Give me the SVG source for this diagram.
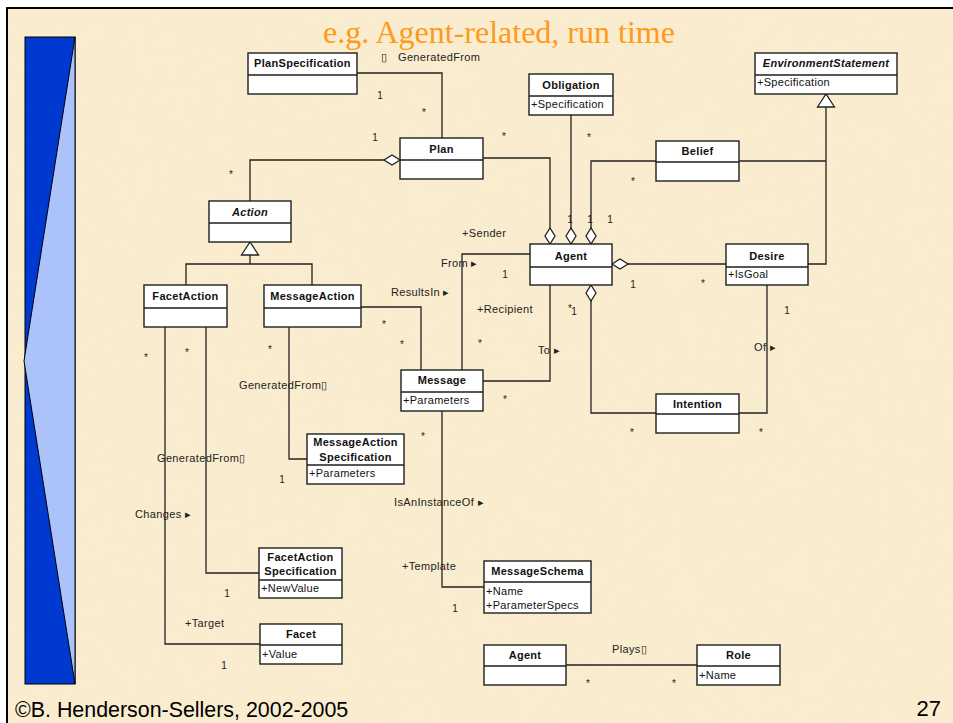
<svg xmlns="http://www.w3.org/2000/svg" width="953" height="723" viewBox="0 0 953 723">
  <style>
    .box { fill: #ffffff; stroke: #1e1e1e; stroke-width: 1.4; }
    .div { stroke: #1e1e1e; stroke-width: 1.4; }
    .name { font-family: "Liberation Sans", Arial, sans-serif; font-size: 11px; font-weight: bold; letter-spacing: 0.3px; text-anchor: middle; fill: #111; }
    .abs { font-style: italic; }
    .attr { font-family: "Liberation Sans", Arial, sans-serif; font-size: 11px; letter-spacing: 0.3px; fill: #111; }
    .lbl { font-family: "Liberation Sans", Arial, sans-serif; font-size: 11px; letter-spacing: 0.35px; fill: #222; }
    .mult { font-family: "Liberation Sans", Arial, sans-serif; font-size: 10px; text-anchor: middle; fill: #222; }
    .conn { fill: none; stroke: #222; stroke-width: 1.3; }
    .agg { marker-start: url(#diamond); }
    .gen { marker-end: url(#hollowTri); }
  </style>
  <defs>
    <marker id="diamond" markerUnits="userSpaceOnUse" markerWidth="18" markerHeight="12" refX="0" refY="6" orient="auto" viewBox="-1 0 18 12" overflow="visible">
      <path d="M0,6 L8,1 L16,6 L8,11 Z" fill="#fff" stroke="#222" stroke-width="1.3"/>
    </marker>
    <marker id="hollowTri" markerUnits="userSpaceOnUse" markerWidth="15" markerHeight="19" refX="13" refY="9" orient="auto" viewBox="0 0 15 19" overflow="visible">
      <path d="M0,0.5 L13,9 L0,17.5 Z" fill="#fff" stroke="#222" stroke-width="1.3"/>
    </marker>
    <filter id="parchment" x="0" y="0" width="100%" height="100%">
      <feTurbulence type="fractalNoise" baseFrequency="0.018" numOctaves="3" seed="7"/>
      <feColorMatrix type="matrix" values="0 0 0 0 0.93  0 0 0 0 0.84  0 0 0 0 0.62  0 0 0 -1.1 0.75"/>
    </filter>
  </defs>

  <!-- slide background and frame -->
  <rect x="0" y="0" width="953" height="723" fill="#ffffff"/>
  <rect x="7" y="8" width="960" height="730" fill="#faedcf"/>
  <rect x="7" y="8" width="960" height="730" filter="url(#parchment)" opacity="0.6"/>
  <rect x="7" y="8" width="960" height="730" fill="none" stroke="#000" stroke-width="2"/>

  <!-- left decorative bar -->
  <g id="side-bar">
    <rect x="25" y="37" width="50" height="647" fill="#0039d0" stroke="#000" stroke-width="1"/>
    <polygon points="75,37 24,361 75,684" fill="#abc3fa" stroke="#000" stroke-width="1"/>
  </g>

  <!-- title and footer -->
  <text x="323" y="43" font-family="'Liberation Serif', 'Times New Roman', serif" font-size="32" fill="#ff9a1a">e.g. Agent-related, run time</text>
  <text x="15" y="717" font-family="'Liberation Sans', Arial, sans-serif" font-size="21.4" fill="#000">©B. Henderson-Sellers, 2002-2005</text>
  <text x="941" y="716" font-family="'Liberation Sans', Arial, sans-serif" font-size="22" text-anchor="end" fill="#000">27</text>

  <!-- connectors -->
  <g id="connectors">
    <path class="conn" d="M357,73 H442 V138"/>
    <path class="conn agg" d="M400,160 H250 V201"/>
    <path class="conn agg" d="M550,244 V158 H483"/>
    <path class="conn agg" d="M571,244 V115"/>
    <path class="conn agg" d="M591,244 V161 H656"/>
    <path class="conn agg" d="M612,264 H726"/>
    <path class="conn agg" d="M591,285 V413 H656"/>
    <path class="conn" d="M767,285 V413 H739"/>
    <path class="conn gen" d="M808,264 H826 V94"/>
    <path class="conn" d="M739,161 H826"/>
    <path class="conn" d="M186,285 V264 H312 V285"/>
    <path class="conn gen" d="M250,264 V242"/>
    <path class="conn" d="M462,370 V254 H530"/>
    <path class="conn" d="M483,381 H550 V285"/>
    <path class="conn" d="M361,307 H421 V370"/>
    <path class="conn" d="M289,327 V459 H307"/>
    <path class="conn" d="M206,327 V573 H259"/>
    <path class="conn" d="M165,327 V644 H260"/>
    <path class="conn" d="M442,411 V587 H484"/>
    <path class="conn" d="M566,665 H697"/>

    <!-- association names and roles -->
    <text class="lbl" x="381" y="61">▯<tspan x="398">GeneratedFrom</tspan></text>
    <text class="lbl" x="462" y="237">+Sender</text>
    <text class="lbl" x="441" y="267">From ▸</text>
    <text class="lbl" x="391" y="296">ResultsIn ▸</text>
    <text class="lbl" x="477" y="313">+Recipient</text>
    <text class="lbl" x="538" y="354">To ▸</text>
    <text class="lbl" x="754" y="351">Of ▸</text>
    <text class="lbl" x="239" y="389">GeneratedFrom▯</text>
    <text class="lbl" x="157" y="462">GeneratedFrom▯</text>
    <text class="lbl" x="135" y="518">Changes ▸</text>
    <text class="lbl" x="394" y="506">IsAnInstanceOf ▸</text>
    <text class="lbl" x="402" y="570">+Template</text>
    <text class="lbl" x="185" y="627">+Target</text>
    <text class="lbl" x="612" y="653">Plays▯</text>

    <!-- multiplicities -->
    <text class="mult" x="380" y="99">1</text>
    <text class="mult" x="424" y="116">*</text>
    <text class="mult" x="375" y="141">1</text>
    <text class="mult" x="231" y="178">*</text>
    <text class="mult" x="504" y="140">*</text>
    <text class="mult" x="589" y="141">*</text>
    <text class="mult" x="633" y="185">*</text>
    <text class="mult" x="570" y="223">1</text>
    <text class="mult" x="590" y="223">1</text>
    <text class="mult" x="610" y="223">1</text>
    <text class="mult" x="505" y="278">1</text>
    <text class="mult" x="633" y="288">1</text>
    <text class="mult" x="703" y="287">*</text>
    <text class="mult" x="570" y="312">*</text>
    <text class="mult" x="574" y="315">1</text>
    <text class="mult" x="787" y="314">1</text>
    <text class="mult" x="384" y="328">*</text>
    <text class="mult" x="402" y="348">*</text>
    <text class="mult" x="480" y="347">*</text>
    <text class="mult" x="505" y="403">*</text>
    <text class="mult" x="632" y="436">*</text>
    <text class="mult" x="761" y="436">*</text>
    <text class="mult" x="146" y="361">*</text>
    <text class="mult" x="187" y="356">*</text>
    <text class="mult" x="270" y="353">*</text>
    <text class="mult" x="423" y="440">*</text>
    <text class="mult" x="282" y="483">1</text>
    <text class="mult" x="227" y="597">1</text>
    <text class="mult" x="224" y="669">1</text>
    <text class="mult" x="455" y="612">1</text>
    <text class="mult" x="588" y="687">*</text>
    <text class="mult" x="674" y="687">*</text>
  </g>

  <!-- classes -->
  <g id="plan-specification">
    <rect class="box" x="248" y="53" width="109" height="41"/>
    <line class="div" x1="248" y1="75" x2="357" y2="75"/>
    <text class="name" x="302.5" y="67">PlanSpecification</text>
  </g>
  <g id="plan">
    <rect class="box" x="400" y="138" width="83" height="41"/>
    <line class="div" x1="400" y1="160" x2="483" y2="160"/>
    <text class="name" x="441.5" y="153">Plan</text>
  </g>
  <g id="obligation">
    <rect class="box" x="529" y="74" width="84" height="41"/>
    <line class="div" x1="529" y1="96" x2="613" y2="96"/>
    <text class="name" x="571" y="89">Obligation</text>
    <text class="attr" x="531" y="108">+Specification</text>
  </g>
  <g id="environment-statement">
    <rect class="box" x="755" y="53" width="142" height="41"/>
    <line class="div" x1="755" y1="75" x2="897" y2="75"/>
    <text class="name abs" x="826" y="67">EnvironmentStatement</text>
    <text class="attr" x="757" y="86">+Specification</text>
  </g>
  <g id="belief">
    <rect class="box" x="656" y="141" width="83" height="40"/>
    <line class="div" x1="656" y1="162" x2="739" y2="162"/>
    <text class="name" x="697.5" y="155">Belief</text>
  </g>
  <g id="action">
    <rect class="box" x="209" y="201" width="82" height="41"/>
    <line class="div" x1="209" y1="223" x2="291" y2="223"/>
    <text class="name abs" x="250" y="216">Action</text>
  </g>
  <g id="agent">
    <rect class="box" x="530" y="244" width="82" height="41"/>
    <line class="div" x1="530" y1="267" x2="612" y2="267"/>
    <text class="name" x="571" y="260">Agent</text>
  </g>
  <g id="desire">
    <rect class="box" x="726" y="244" width="82" height="41"/>
    <line class="div" x1="726" y1="267" x2="808" y2="267"/>
    <text class="name" x="767" y="260">Desire</text>
    <text class="attr" x="728" y="278">+IsGoal</text>
  </g>
  <g id="facet-action">
    <rect class="box" x="144" y="285" width="83" height="42"/>
    <line class="div" x1="144" y1="308" x2="227" y2="308"/>
    <text class="name" x="185.5" y="300">FacetAction</text>
  </g>
  <g id="message-action">
    <rect class="box" x="264" y="285" width="97" height="42"/>
    <line class="div" x1="264" y1="308" x2="361" y2="308"/>
    <text class="name" x="312.5" y="300">MessageAction</text>
  </g>
  <g id="message">
    <rect class="box" x="401" y="370" width="82" height="41"/>
    <line class="div" x1="401" y1="392" x2="483" y2="392"/>
    <text class="name" x="442" y="384">Message</text>
    <text class="attr" x="403" y="404">+Parameters</text>
  </g>
  <g id="intention">
    <rect class="box" x="656" y="394" width="83" height="39"/>
    <line class="div" x1="656" y1="414" x2="739" y2="414"/>
    <text class="name" x="697.5" y="408">Intention</text>
  </g>
  <g id="message-action-specification">
    <rect class="box" x="307" y="434" width="97" height="50"/>
    <line class="div" x1="307" y1="465" x2="404" y2="465"/>
    <text class="name" x="355.5" y="446">MessageAction</text>
    <text class="name" x="355.5" y="461">Specification</text>
    <text class="attr" x="309" y="477">+Parameters</text>
  </g>
  <g id="facet-action-specification">
    <rect class="box" x="259" y="548" width="83" height="50"/>
    <line class="div" x1="259" y1="580" x2="342" y2="580"/>
    <text class="name" x="300.5" y="561">FacetAction</text>
    <text class="name" x="300.5" y="575">Specification</text>
    <text class="attr" x="261" y="592">+NewValue</text>
  </g>
  <g id="message-schema">
    <rect class="box" x="484" y="561" width="107" height="52"/>
    <line class="div" x1="484" y1="582" x2="591" y2="582"/>
    <text class="name" x="537.5" y="575">MessageSchema</text>
    <text class="attr" x="486" y="595">+Name</text>
    <text class="attr" x="486" y="609">+ParameterSpecs</text>
  </g>
  <g id="facet">
    <rect class="box" x="260" y="624" width="82" height="40"/>
    <line class="div" x1="260" y1="645" x2="342" y2="645"/>
    <text class="name" x="301" y="638">Facet</text>
    <text class="attr" x="262" y="658">+Value</text>
  </g>
  <g id="agent-player">
    <rect class="box" x="484" y="645" width="82" height="40"/>
    <line class="div" x1="484" y1="666" x2="566" y2="666"/>
    <text class="name" x="525" y="659">Agent</text>
  </g>
  <g id="role">
    <rect class="box" x="697" y="645" width="83" height="40"/>
    <line class="div" x1="697" y1="666" x2="780" y2="666"/>
    <text class="name" x="738.5" y="659">Role</text>
    <text class="attr" x="699" y="679">+Name</text>
  </g>
</svg>
